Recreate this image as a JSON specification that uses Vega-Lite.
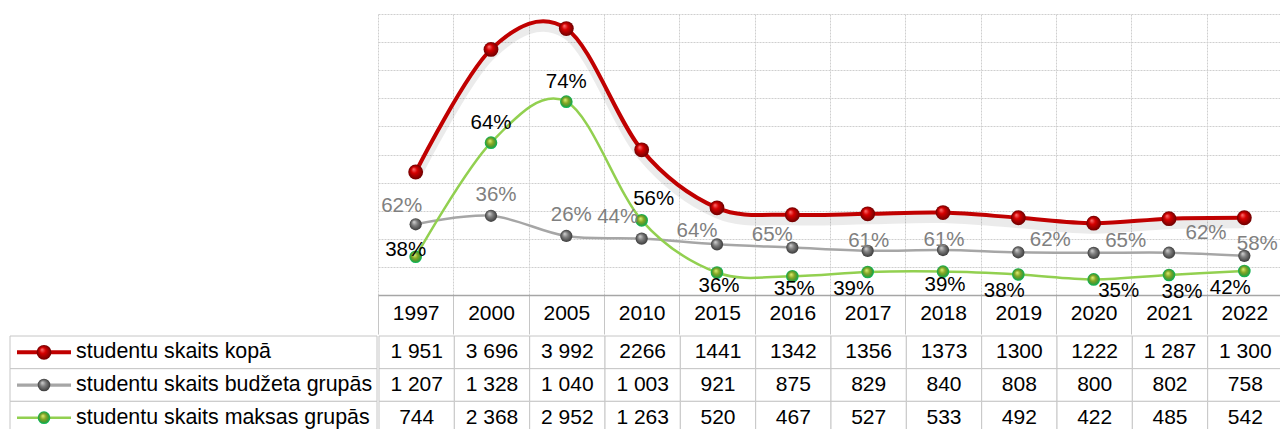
{
  "$schema": "https://vega.github.io/schema/vega-lite/v6.json",
  "padding": {"left": 9, "top": 14, "right": 0, "bottom": 0},
  "config": {"view": {"stroke": null}, "concat": {"spacing": 0}, "font": "Liberation Sans"},
  "datasets": {
    "rows": [
      {"year": "1997", "series": "studentu skaits kopā", "value": 1951, "display": "1 951"},
      {"year": "2000", "series": "studentu skaits kopā", "value": 3696, "display": "3 696"},
      {"year": "2005", "series": "studentu skaits kopā", "value": 3992, "display": "3 992"},
      {"year": "2010", "series": "studentu skaits kopā", "value": 2266, "display": "2266"},
      {"year": "2015", "series": "studentu skaits kopā", "value": 1441, "display": "1441"},
      {"year": "2016", "series": "studentu skaits kopā", "value": 1342, "display": "1342"},
      {"year": "2017", "series": "studentu skaits kopā", "value": 1356, "display": "1356"},
      {"year": "2018", "series": "studentu skaits kopā", "value": 1373, "display": "1373"},
      {"year": "2019", "series": "studentu skaits kopā", "value": 1300, "display": "1300"},
      {"year": "2020", "series": "studentu skaits kopā", "value": 1222, "display": "1222"},
      {"year": "2021", "series": "studentu skaits kopā", "value": 1287, "display": "1 287"},
      {"year": "2022", "series": "studentu skaits kopā", "value": 1300, "display": "1 300"},
      {"year": "1997", "series": "studentu skaits budžeta grupās", "value": 1207, "display": "1 207", "pct": "62%"},
      {"year": "2000", "series": "studentu skaits budžeta grupās", "value": 1328, "display": "1 328", "pct": "36%"},
      {"year": "2005", "series": "studentu skaits budžeta grupās", "value": 1040, "display": "1 040", "pct": "26%"},
      {"year": "2010", "series": "studentu skaits budžeta grupās", "value": 1003, "display": "1 003", "pct": "44%"},
      {"year": "2015", "series": "studentu skaits budžeta grupās", "value": 921, "display": "921", "pct": "64%"},
      {"year": "2016", "series": "studentu skaits budžeta grupās", "value": 875, "display": "875", "pct": "65%"},
      {"year": "2017", "series": "studentu skaits budžeta grupās", "value": 829, "display": "829", "pct": "61%"},
      {"year": "2018", "series": "studentu skaits budžeta grupās", "value": 840, "display": "840", "pct": "61%"},
      {"year": "2019", "series": "studentu skaits budžeta grupās", "value": 808, "display": "808", "pct": "62%"},
      {"year": "2020", "series": "studentu skaits budžeta grupās", "value": 800, "display": "800", "pct": "65%"},
      {"year": "2021", "series": "studentu skaits budžeta grupās", "value": 802, "display": "802", "pct": "62%"},
      {"year": "2022", "series": "studentu skaits budžeta grupās", "value": 758, "display": "758", "pct": "58%"},
      {"year": "1997", "series": "studentu skaits maksas grupās", "value": 744, "display": "744", "pct": "38%"},
      {"year": "2000", "series": "studentu skaits maksas grupās", "value": 2368, "display": "2 368", "pct": "64%"},
      {"year": "2005", "series": "studentu skaits maksas grupās", "value": 2952, "display": "2 952", "pct": "74%"},
      {"year": "2010", "series": "studentu skaits maksas grupās", "value": 1263, "display": "1 263", "pct": "56%"},
      {"year": "2015", "series": "studentu skaits maksas grupās", "value": 520, "display": "520", "pct": "36%"},
      {"year": "2016", "series": "studentu skaits maksas grupās", "value": 467, "display": "467", "pct": "35%"},
      {"year": "2017", "series": "studentu skaits maksas grupās", "value": 527, "display": "527", "pct": "39%"},
      {"year": "2018", "series": "studentu skaits maksas grupās", "value": 533, "display": "533", "pct": "39%"},
      {"year": "2019", "series": "studentu skaits maksas grupās", "value": 492, "display": "492", "pct": "38%"},
      {"year": "2020", "series": "studentu skaits maksas grupās", "value": 422, "display": "422", "pct": "35%"},
      {"year": "2021", "series": "studentu skaits maksas grupās", "value": 485, "display": "485", "pct": "38%"},
      {"year": "2022", "series": "studentu skaits maksas grupās", "value": 542, "display": "542", "pct": "42%"}
    ],
    "legend": [
      {"series": "studentu skaits kopā"},
      {"series": "studentu skaits budžeta grupās"},
      {"series": "studentu skaits maksas grupās"}
    ]
  },
  "spacing": 0,
  "vconcat": [
    {
      "spacing": 0,
      "hconcat": [
        {
          "width": 367,
          "height": 281,
          "data": {"values": [{}]},
          "mark": {"type": "text"},
          "encoding": {"text": {"value": ""}}
        },
        {
          "width": 904,
          "height": 281,
          "data": {"name": "rows"},
          "encoding": {
            "x": {
              "field": "year", "type": "ordinal", "title": null,
              "scale": {"type": "band", "paddingInner": 0, "paddingOuter": 0},
              "axis": {
                "tickBand": "extent", "grid": true, "gridColor": "#cfcfcf", "gridDash": [2, 1], "gridWidth": 1,
                "domain": true, "domainColor": "#a6a6a6", "domainWidth": 1.3,
                "ticks": true, "tickSize": 39, "tickColor": "#c6c6c6", "tickWidth": 1,
                "labelFontSize": 21, "labelFont": "Liberation Sans", "labelColor": "#000000",
                "labelAngle": 0, "labelBaseline": "middle", "labelPadding": -21, "labelOverlap": false
              }
            },
            "y": {
              "field": "value", "type": "quantitative", "title": null,
              "scale": {"domain": [200, 4200], "nice": false, "zero": false},
              "axis": {
                "values": [200, 600, 1000, 1400, 1800, 2200, 2600, 3000, 3400, 3800, 4200],
                "labels": false, "ticks": false, "domain": false,
                "grid": true, "gridColor": "#cfcfcf", "gridDash": [2, 1]
              }
            }
          },
          "layer": [
            {
              "transform": [{"filter": {"field": "series", "equal": "studentu skaits kopā"}}],
              "mark": {"type": "line", "clip": true, "interpolate": "cardinal", "stroke": "#000000", "opacity": 0.08, "strokeWidth": 9, "yOffset": 6}
            },
            {
              "transform": [{"filter": {"field": "series", "equal": "studentu skaits kopā"}}],
              "mark": {"type": "line", "clip": true, "interpolate": "cardinal", "stroke": "#c00000", "strokeWidth": 4}
            },
            {
              "transform": [{"filter": {"field": "series", "equal": "studentu skaits kopā"}}],
              "mark": {"type": "point", "filled": true, "size": 220, "opacity": 1, "strokeWidth": 0,
                "fill": {"gradient": "radial", "x1": 0.35, "y1": 0.3, "r1": 0, "x2": 0.5, "y2": 0.5, "r2": 0.5,
                  "stops": [{"offset": 0, "color": "#ff7a7a"}, {"offset": 0.4, "color": "#d60000"}, {"offset": 1, "color": "#6e0000"}]}}
            },
            {
              "transform": [{"filter": {"field": "series", "equal": "studentu skaits budžeta grupās"}}],
              "mark": {"type": "line", "clip": true, "interpolate": "cardinal", "stroke": "#a6a6a6", "strokeWidth": 2.5}
            },
            {
              "transform": [{"filter": {"field": "series", "equal": "studentu skaits budžeta grupās"}}],
              "mark": {"type": "point", "filled": true, "size": 150, "opacity": 1, "strokeWidth": 0,
                "fill": {"gradient": "radial", "x1": 0.35, "y1": 0.3, "r1": 0, "x2": 0.5, "y2": 0.5, "r2": 0.5,
                  "stops": [{"offset": 0, "color": "#d8d8d8"}, {"offset": 0.45, "color": "#808080"}, {"offset": 1, "color": "#3c3c3c"}]}}
            },
            {
              "transform": [{"filter": {"field": "series", "equal": "studentu skaits maksas grupās"}}],
              "mark": {"type": "line", "clip": true, "interpolate": "cardinal", "stroke": "#92d050", "strokeWidth": 2.5}
            },
            {
              "transform": [{"filter": {"field": "series", "equal": "studentu skaits maksas grupās"}}],
              "mark": {"type": "point", "filled": true, "size": 160, "opacity": 1, "strokeWidth": 0,
                "fill": {"gradient": "radial", "x1": 0.4, "y1": 0.35, "r1": 0, "x2": 0.5, "y2": 0.5, "r2": 0.5,
                  "stops": [{"offset": 0, "color": "#e4f27a"}, {"offset": 0.45, "color": "#84a624"}, {"offset": 0.8, "color": "#3d9a36"}, {"offset": 1, "color": "#00c060"}]}}
            },
            {
              "transform": [{"filter": {"and": [{"field": "series", "equal": "studentu skaits budžeta grupās"}, {"field": "year", "oneOf": ["1997"]}]}}],
              "mark": {"type": "text", "fontSize": 20.5, "color": "#808080", "baseline": "middle", "dx": -14, "dy": -18},
              "encoding": {"text": {"field": "pct"}}
            },
            {
              "transform": [{"filter": {"and": [{"field": "series", "equal": "studentu skaits budžeta grupās"}, {"field": "year", "oneOf": ["2000", "2005"]}]}}],
              "mark": {"type": "text", "fontSize": 20.5, "color": "#808080", "baseline": "middle", "dx": 5, "dy": -21},
              "encoding": {"text": {"field": "pct"}}
            },
            {
              "transform": [{"filter": {"and": [{"field": "series", "equal": "studentu skaits budžeta grupās"}, {"field": "year", "oneOf": ["2010"]}]}}],
              "mark": {"type": "text", "fontSize": 20.5, "color": "#808080", "baseline": "middle", "dx": -24, "dy": -22},
              "encoding": {"text": {"field": "pct"}}
            },
            {
              "transform": [{"filter": {"and": [{"field": "series", "equal": "studentu skaits budžeta grupās"}, {"field": "year", "oneOf": ["2015", "2016"]}]}}],
              "mark": {"type": "text", "fontSize": 20.5, "color": "#808080", "baseline": "middle", "dx": -20, "dy": -13},
              "encoding": {"text": {"field": "pct"}}
            },
            {
              "transform": [{"filter": {"and": [{"field": "series", "equal": "studentu skaits budžeta grupās"}, {"field": "year", "oneOf": ["2017", "2018"]}]}}],
              "mark": {"type": "text", "fontSize": 20.5, "color": "#808080", "baseline": "middle", "dx": 1, "dy": -10},
              "encoding": {"text": {"field": "pct"}}
            },
            {
              "transform": [{"filter": {"and": [{"field": "series", "equal": "studentu skaits budžeta grupās"}, {"field": "year", "oneOf": ["2019", "2020"]}]}}],
              "mark": {"type": "text", "fontSize": 20.5, "color": "#808080", "baseline": "middle", "dx": 32, "dy": -12},
              "encoding": {"text": {"field": "pct"}}
            },
            {
              "transform": [{"filter": {"and": [{"field": "series", "equal": "studentu skaits budžeta grupās"}, {"field": "year", "oneOf": ["2021"]}]}}],
              "mark": {"type": "text", "fontSize": 20.5, "color": "#808080", "baseline": "middle", "dx": 37, "dy": -20},
              "encoding": {"text": {"field": "pct"}}
            },
            {
              "transform": [{"filter": {"and": [{"field": "series", "equal": "studentu skaits budžeta grupās"}, {"field": "year", "oneOf": ["2022"]}]}}],
              "mark": {"type": "text", "fontSize": 20.5, "color": "#808080", "baseline": "middle", "dx": 13, "dy": -12},
              "encoding": {"text": {"field": "pct"}}
            },
            {
              "transform": [{"filter": {"and": [{"field": "series", "equal": "studentu skaits maksas grupās"}, {"field": "year", "oneOf": ["1997"]}]}}],
              "mark": {"type": "text", "fontSize": 20.5, "color": "#000000", "baseline": "middle", "dx": -10, "dy": -7},
              "encoding": {"text": {"field": "pct"}}
            },
            {
              "transform": [{"filter": {"and": [{"field": "series", "equal": "studentu skaits maksas grupās"}, {"field": "year", "oneOf": ["2000", "2005"]}]}}],
              "mark": {"type": "text", "fontSize": 20.5, "color": "#000000", "baseline": "middle", "dx": 0, "dy": -20},
              "encoding": {"text": {"field": "pct"}}
            },
            {
              "transform": [{"filter": {"and": [{"field": "series", "equal": "studentu skaits maksas grupās"}, {"field": "year", "oneOf": ["2010"]}]}}],
              "mark": {"type": "text", "fontSize": 20.5, "color": "#000000", "baseline": "middle", "dx": 12, "dy": -21},
              "encoding": {"text": {"field": "pct"}}
            },
            {
              "transform": [{"filter": {"and": [{"field": "series", "equal": "studentu skaits maksas grupās"}, {"field": "year", "oneOf": ["2015", "2016", "2018"]}]}}],
              "mark": {"type": "text", "fontSize": 20.5, "color": "#000000", "baseline": "middle", "dx": 2, "dy": 13},
              "encoding": {"text": {"field": "pct"}}
            },
            {
              "transform": [{"filter": {"and": [{"field": "series", "equal": "studentu skaits maksas grupās"}, {"field": "year", "oneOf": ["2017", "2019", "2022"]}]}}],
              "mark": {"type": "text", "fontSize": 20.5, "color": "#000000", "baseline": "middle", "dx": -14, "dy": 17},
              "encoding": {"text": {"field": "pct"}}
            },
            {
              "transform": [{"filter": {"and": [{"field": "series", "equal": "studentu skaits maksas grupās"}, {"field": "year", "oneOf": ["2020"]}]}}],
              "mark": {"type": "text", "fontSize": 20.5, "color": "#000000", "baseline": "middle", "dx": 25, "dy": 12},
              "encoding": {"text": {"field": "pct"}}
            },
            {
              "transform": [{"filter": {"and": [{"field": "series", "equal": "studentu skaits maksas grupās"}, {"field": "year", "oneOf": ["2021"]}]}}],
              "mark": {"type": "text", "fontSize": 20.5, "color": "#000000", "baseline": "middle", "dx": 13, "dy": 17},
              "encoding": {"text": {"field": "pct"}}
            }
          ]
        }
      ]
    },
    {
      "spacing": 0,
      "hconcat": [
        {
          "width": 367,
          "height": 98,
          "data": {"name": "legend"},
          "encoding": {
            "y": {"field": "series", "type": "nominal", "title": null,
              "scale": {"type": "band", "paddingInner": 0, "paddingOuter": 0,
                "domain": ["studentu skaits kopā", "studentu skaits budžeta grupās", "studentu skaits maksas grupās"]},
              "axis": null}
          },
          "layer": [
            {"mark": {"type": "rect", "fill": "#ffffff", "stroke": "#c6c6c6", "strokeWidth": 1}},
            {
              "mark": {"type": "rule"},
              "encoding": {
                "x": {"datum": 7, "type": "quantitative", "scale": {"domain": [0, 367], "nice": false, "zero": false}, "axis": null},
                "x2": {"datum": 61},
                "color": {"field": "series", "type": "nominal", "legend": null,
                  "scale": {"domain": ["studentu skaits kopā", "studentu skaits budžeta grupās", "studentu skaits maksas grupās"], "range": ["#c00000", "#a6a6a6", "#92d050"]}},
                "strokeWidth": {"field": "series", "type": "nominal", "legend": null,
                  "scale": {"domain": ["studentu skaits kopā", "studentu skaits budžeta grupās", "studentu skaits maksas grupās"], "range": [4, 2.5, 2.5]}}
              }
            },
            {
              "transform": [{"filter": {"field": "series", "equal": "studentu skaits kopā"}}],
              "mark": {"type": "point", "filled": true, "size": 220, "opacity": 1, "strokeWidth": 0,
                "fill": {"gradient": "radial", "x1": 0.35, "y1": 0.3, "r1": 0, "x2": 0.5, "y2": 0.5, "r2": 0.5,
                  "stops": [{"offset": 0, "color": "#ff7a7a"}, {"offset": 0.4, "color": "#d60000"}, {"offset": 1, "color": "#6e0000"}]}},
              "encoding": {"x": {"datum": 34, "type": "quantitative"}}
            },
            {
              "transform": [{"filter": {"field": "series", "equal": "studentu skaits budžeta grupās"}}],
              "mark": {"type": "point", "filled": true, "size": 160, "opacity": 1, "strokeWidth": 0,
                "fill": {"gradient": "radial", "x1": 0.35, "y1": 0.3, "r1": 0, "x2": 0.5, "y2": 0.5, "r2": 0.5,
                  "stops": [{"offset": 0, "color": "#d8d8d8"}, {"offset": 0.45, "color": "#808080"}, {"offset": 1, "color": "#3c3c3c"}]}},
              "encoding": {"x": {"datum": 34, "type": "quantitative"}}
            },
            {
              "transform": [{"filter": {"field": "series", "equal": "studentu skaits maksas grupās"}}],
              "mark": {"type": "point", "filled": true, "size": 160, "opacity": 1, "strokeWidth": 0,
                "fill": {"gradient": "radial", "x1": 0.4, "y1": 0.35, "r1": 0, "x2": 0.5, "y2": 0.5, "r2": 0.5,
                  "stops": [{"offset": 0, "color": "#e4f27a"}, {"offset": 0.45, "color": "#84a624"}, {"offset": 0.8, "color": "#3d9a36"}, {"offset": 1, "color": "#00c060"}]}},
              "encoding": {"x": {"datum": 34, "type": "quantitative"}}
            },
            {
              "mark": {"type": "text", "align": "left", "baseline": "middle", "fontSize": 21.4, "color": "#000000"},
              "encoding": {"x": {"datum": 66, "type": "quantitative"}, "text": {"field": "series"}}
            }
          ]
        },
        {
          "width": 904,
          "height": 98,
          "data": {"name": "rows"},
          "encoding": {
            "x": {"field": "year", "type": "ordinal", "title": null,
              "scale": {"type": "band", "paddingInner": 0, "paddingOuter": 0}, "axis": null},
            "y": {"field": "series", "type": "nominal", "title": null,
              "scale": {"type": "band", "paddingInner": 0, "paddingOuter": 0,
                "domain": ["studentu skaits kopā", "studentu skaits budžeta grupās", "studentu skaits maksas grupās"]},
              "axis": null}
          },
          "layer": [
            {"mark": {"type": "rect", "fill": "#ffffff", "stroke": "#c6c6c6", "strokeWidth": 1}},
            {
              "mark": {"type": "text", "fontSize": 21, "color": "#000000", "baseline": "middle"},
              "encoding": {"text": {"field": "display"}}
            }
          ]
        }
      ]
    }
  ]
}
